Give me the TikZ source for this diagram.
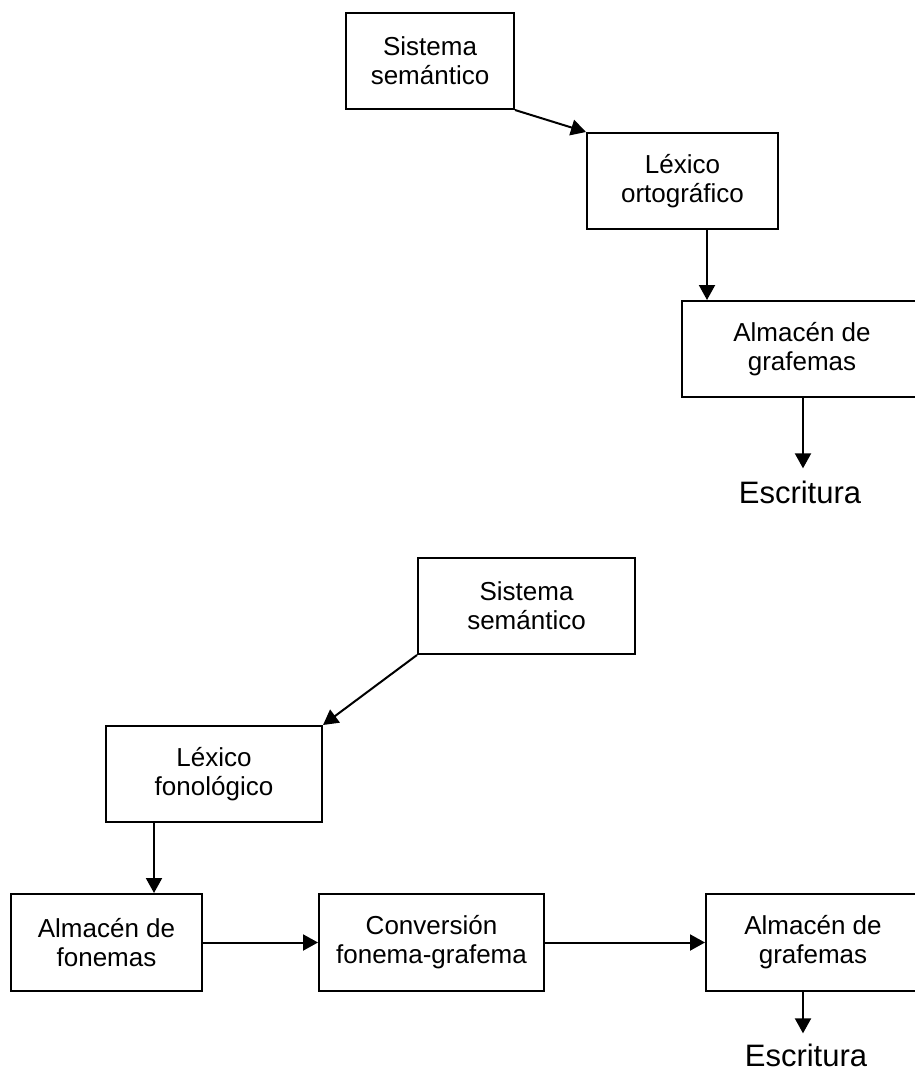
\documentclass[tikz,border=0pt]{standalone}
\usepackage{fontspec}
\setmainfont{Liberation Sans}
\usetikzlibrary{arrows.meta}
\begin{document}
\begin{tikzpicture}[x=1pt,y=-1pt,
  box/.style={draw,line width=2pt,align=center,inner sep=0pt,
    font=\fontsize{26}{29}\selectfont},
  outtext/.style={inner xsep=0pt,inner ysep=12pt,font=\fontsize{31}{36}\selectfont},
  arr/.style={line width=2pt,-{Triangle[length=15pt,width=16pt]}}]
\useasboundingbox (0,0) rectangle (914,1074);

% upper route: semantic system -> orthographic lexicon -> grapheme store
\node[box,minimum width=168pt,minimum height=96pt] (sem1) at (430,61) {Sistema\\semántico};
\node[box,minimum width=191pt,minimum height=96pt] (orto) at (682.5,181) {Léxico\\ortográfico};
\node[box,minimum width=240pt,minimum height=96pt] (graf1) at (802,349) {Almacén de\\grafemas};
\node[outtext,anchor=base] (esc1) at (800,503) {Escritura};

\draw[arr] (sem1.south east) -- (orto.north west);
\coordinate (a1) at ([xshift=24.5pt]orto.south);
\draw[arr] (a1) -- (a1 |- graf1.north);
\coordinate (b1) at ([xshift=1pt]graf1.south);
\draw[arr] (b1) -- (b1 |- esc1.north);

% lower route: through the phonological lexicon and phoneme-grapheme conversion
\node[box,minimum width=217pt,minimum height=96pt] (sem2) at (526.5,606) {Sistema\\semántico};
\node[box,minimum width=216pt,minimum height=96pt] (fono) at (214,774) {Léxico\\fonológico};
\node[box,minimum width=191pt,minimum height=97pt] (fonemas) at (106.5,942.5) {Almacén de\\fonemas};
\node[box,minimum width=225pt,minimum height=97pt] (conv) at (431.5,942.5) {Conversión\\fonema-grafema};
\node[box,minimum width=214pt,minimum height=97pt] (graf2) at (813,942.5) {Almacén de\\grafemas};
\node[outtext,anchor=base,inner ysep=10pt] (esc2) at (806,1066) {Escritura};

\draw[arr] (sem2.south west) -- (fono.north east);
\coordinate (a2) at ([xshift=-60pt]fono.south);
\draw[arr] (a2) -- (a2 |- fonemas.north);
\draw[arr] (fonemas.east) -- (conv.west);
\draw[arr] (conv.east) -- (graf2.west);
\coordinate (b2) at ([xshift=-10pt]graf2.south);
\draw[arr] (b2) -- (b2 |- esc2.north);
\end{tikzpicture}
\end{document}
